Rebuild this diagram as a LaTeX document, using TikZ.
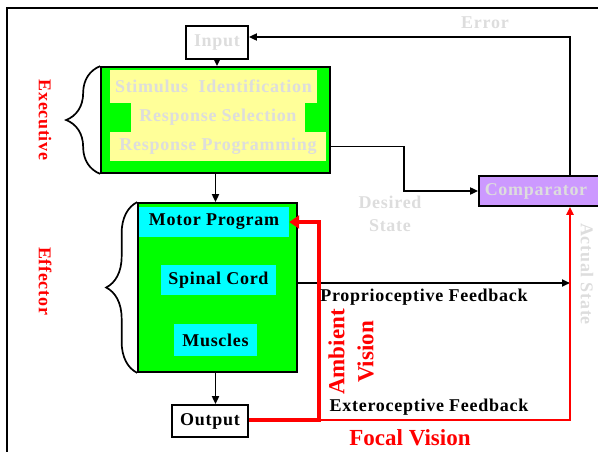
\documentclass[tikz,border=0pt]{standalone}
\usepackage{fontspec}
\setmainfont{Liberation Serif}
\usetikzlibrary{arrows.meta,decorations.pathreplacing}
\definecolor{pale}{HTML}{DDDDDD}
\definecolor{lime}{HTML}{00FF00}
\definecolor{aqua}{HTML}{00FFFF}
\definecolor{lemon}{HTML}{FFFF99}
\definecolor{lilac}{HTML}{CC99FF}
\definecolor{alarm}{HTML}{FF0000}
\begin{document}
\begin{tikzpicture}[x=1pt,y=-1pt,
  box/.style={draw=black, line width=1.7pt, inner sep=0pt},
  band/.style={fill=#1, inner sep=0pt},
  txt/.style={font=\fontsize{18}{23}\selectfont\bfseries\addfontfeature{LetterSpace=4}, inner sep=0pt},
  big/.style={font=\fontsize{23}{29}\selectfont\bfseries, inner sep=0pt, text=alarm},
  arr/.style={line width=1.7pt, -{Triangle[length=8pt,width=7pt]}},
  bracket/.style={line width=1.7pt, decorate, decoration={brace, amplitude=#1}},
  redthick/.style={draw=alarm, line width=4pt, -{Triangle[length=10pt,width=13pt]}},
  redthin/.style={draw=alarm, line width=2pt, -{Triangle[length=8pt,width=7pt]}}]
\useasboundingbox (0,0) rectangle (598,451);
% outer frame (cut by the page edges)
\draw[line width=1.7pt] (7,460) -- (7,8) -- (610,8);

% executive stage
\node[box, fill=lime, minimum width=229pt, minimum height=106pt] (exec) at (215.5,120) {};
\node[band=lemon, minimum width=207pt, minimum height=33pt, txt, text=pale] (stim) at (213.5,86.5) {Stimulus\ \ Identification};
\node[band=lemon, minimum width=174pt, minimum height=29pt, txt, text=pale] (sel) at (218,117.5) {Response Selection};
\node[band=lemon, minimum width=216pt, minimum height=29pt, txt, text=pale] (prog) at (218,146.5) {Response Programming};

% input
\node[box, fill=white, minimum width=62pt, minimum height=33pt, txt, text=pale] (input) at (217,42.5) {Input};

% effector stage
\node[box, fill=lime, minimum width=159pt, minimum height=169pt] (eff) at (217.5,287.5) {};
\node[band=aqua, minimum width=150pt, minimum height=30pt, txt] (motor) at (214,222) {Motor Program};
\node[band=aqua, minimum width=115pt, minimum height=30pt, txt] (spinal) at (218.5,280) {Spinal Cord};
\node[band=aqua, minimum width=83pt, minimum height=32pt, txt] (muscles) at (215.5,340) {Muscles};

% output and comparator
\node[box, fill=white, minimum width=76pt, minimum height=32pt, txt] (out) at (210,421) {Output};
\node[box, fill=lilac, minimum width=120pt, minimum height=30pt] (comp) at (539,191) {};
\node[txt, text=pale] (comptext) at (536,191) {Comparator};

% braces and stage names
\draw[bracket=34pt] (exec.south west) -- (exec.north west);
\draw[bracket=31pt] (eff.south west) -- (eff.north west);
\node[txt, text=alarm, rotate=-90] (execname) at (45,120) {Executive};
\node[txt, text=alarm, rotate=-90] (effname) at (45,281) {Effector};

% routing points
\coordinate (errtop) at (570,37);
\coordinate (pf) at (297,283);
\coordinate (ambx) at (319,420);
\coordinate (corner) at (570,420);

% black connectors
\draw[arr] (input.south) -- (input.south |- exec.north);
\draw[arr] (exec.south) -- (exec.south |- eff.north);
\draw[arr] (eff.south -| exec.south) -- (out.north -| exec.south);
\draw[arr] (prog.east -| exec.east) -- ++(73,0) |- (comp.west);
\draw[arr] (comp.north -| errtop) -- (errtop) -- (errtop -| input.east);
\draw[arr] (eff.east |- pf) -- (pf -| corner);

% visual feedback loops
\draw[redthin] (ambx) -- (corner) -- (comp.south -| corner);
\draw[redthick] (out.east |- ambx) -- (ambx) |- (motor.east);

% labels
\node[txt, text=pale] (errlbl) at (485,23) {Error};
\node[txt, text=pale, align=center] (deslbl) at (390,214) {Desired\\State};
\node[txt, text=pale, rotate=-90] (actlbl) at (587,274) {Actual State};
\node[txt] (proplbl) at (424,297) {Proprioceptive Feedback};
\node[txt] (extlbl) at (429,407) {Exteroceptive Feedback};
\node[big] (foclbl) at (410,438) {Focal Vision};
\node[big, rotate=90, align=center] (amblbl) at (351,352) {Ambient\\Vision};
\end{tikzpicture}
\end{document}
